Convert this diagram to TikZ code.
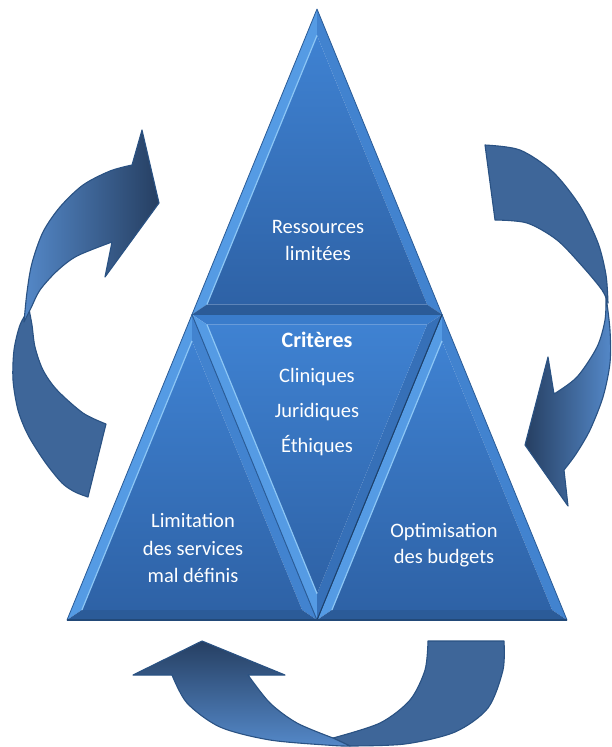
\documentclass[tikz,border=0pt]{standalone}
\usepackage{fontspec}
\setmainfont{Carlito}
\definecolor{triTop}{HTML}{3F82D2}
\definecolor{triBot}{HTML}{2E62A6}
\definecolor{bevL}{HTML}{559BE4}
\definecolor{bevR}{HTML}{4283CF}
\definecolor{bevB}{HTML}{2B5B98}
\definecolor{bevCT}{HTML}{3A7CCB}
\definecolor{bevCR}{HTML}{3670B8}
\definecolor{hilite}{HTML}{8CC6F5}
\definecolor{edgeC}{HTML}{2A5B96}
\definecolor{arrBack}{HTML}{3E6699}
\definecolor{arrDark}{HTML}{263F62}
\definecolor{arrLight}{HTML}{5488C8}
\definecolor{arrLine}{HTML}{2A5283}
\begin{document}
\begin{tikzpicture}[x=1pt,y=-1pt,
  back/.style={fill=arrBack,draw=arrLine,line width=1.1pt,line join=round},
  front/.style={draw=arrLine,line width=1.1pt,line join=round},
  outl/.style={draw=edgeC,line width=0.8pt,line join=round},
  lbl/.style={text=white,anchor=base,inner sep=0pt,font=\fontsize{20.5}{24}\selectfont},
  lblb/.style={lbl,font=\fontsize{22}{24}\selectfont\bfseries}]
\useasboundingbox (0,0) rectangle (611,747);
% --- outer vertices
\coordinate (A) at (317,9);
\coordinate (ML) at (192,314.5);
\coordinate (MR) at (442,314.5);
\coordinate (L) at (67,620);
\coordinate (MB) at (317,620);
\coordinate (R) at (567,620);
% --- inner (bevel) vertices
\coordinate (Ai) at (317,35.4);
\coordinate (MLt) at (206.9,304.5);
\coordinate (MRt) at (427.1,304.5);
\coordinate (MLl) at (192,340.9);
\coordinate (Ll) at (81.9,610);
\coordinate (MBl) at (302.1,610);
\coordinate (MRr) at (442,340.9);
\coordinate (MBr) at (331.9,610);
\coordinate (Rr) at (552.1,610);
\coordinate (MLc) at (206.9,324.5);
\coordinate (MRc) at (427.1,324.5);
\coordinate (MBc) at (317,593.6);
% --- top triangle
\fill[bevL] (A)--(ML)--(MLt)--(Ai)--cycle;
\fill[bevR] (A)--(MR)--(MRt)--(Ai)--cycle;
\fill[bevB] (ML)--(MR)--(MRt)--(MLt)--cycle;
\shade[top color=triTop,bottom color=triBot] (Ai)--(MLt)--(MRt)--cycle;
\draw[hilite,line width=1.2pt] (Ai)--(MLt);
\draw[outl] (A)--(ML)--(MR)--cycle;
% --- left triangle
\fill[bevL] (ML)--(L)--(Ll)--(MLl)--cycle;
\fill[bevR] (ML)--(MB)--(MBl)--(MLl)--cycle;
\fill[bevB] (L)--(MB)--(MBl)--(Ll)--cycle;
\shade[top color=triTop,bottom color=triBot] (MLl)--(Ll)--(MBl)--cycle;
\draw[hilite,line width=1.2pt] (MLl)--(Ll);
\draw[outl] (ML)--(L)--(MB)--cycle;
% --- right triangle
\fill[bevL] (MR)--(MB)--(MBr)--(MRr)--cycle;
\fill[bevR] (MR)--(R)--(Rr)--(MRr)--cycle;
\fill[bevB] (MB)--(R)--(Rr)--(MBr)--cycle;
\shade[top color=triTop,bottom color=triBot] (MRr)--(MBr)--(Rr)--cycle;
\draw[hilite,line width=1.2pt] (MRr)--(MBr);
\draw[outl] (MR)--(MB)--(R)--cycle;
% --- centre (inverted) triangle
\fill[bevCT] (ML)--(MR)--(MRc)--(MLc)--cycle;
\fill[bevL] (ML)--(MB)--(MBc)--(MLc)--cycle;
\fill[bevCR] (MR)--(MB)--(MBc)--(MRc)--cycle;
\shade[top color=triTop,bottom color=triBot] (MLc)--(MRc)--(MBc)--cycle;
\draw[hilite,line width=1.2pt] (MLc)--(MBc);
\draw[outl] (ML)--(MR)--(MB)--cycle;
\draw[edgeC!70!black,line width=0.9pt] (MR)--(MB);
\draw[edgeC!80!black,line width=1.2pt] (L)--(R);
% --- texts
\node[lbl] (t1) at (318,233) {Ressources};
\node[lbl] (t2) at (318,260) {limitées};
\node[lblb] (c0) at (317,347) {Critères};
\node[lbl] (c1) at (317,382.5) {Cliniques};
\node[lbl] (c2) at (317,417.5) {Juridiques};
\node[lbl] (c3) at (317,452.5) {Éthiques};
\node[lbl] (l1) at (193,527) {Limitation};
\node[lbl] (l2) at (193,555) {des services};
\node[lbl] (l3) at (193,582) {mal définis};
\node[lbl] (r1) at (444,537) {Optimisation};
\node[lbl] (r2) at (444,563) {des budgets};
% --- left arrow
\filldraw[back] plot[smooth] coordinates {(29,309) (20,325) (14,350) (13,380) (18,410) (28,435) (45,462) (62,483) (75,492) (88,497)} -- (106,424) -- plot[smooth] coordinates {(106,424) (83,413) (57,390) (43,370) (35,347) (32,325) (29,309)} -- cycle;
\shadedraw[front,left color=arrLight,right color=arrDark] plot[smooth] coordinates {(24,322) (27,292) (32,263) (43,232) (60,207) (83,185) (110,171) (132,165)} -- (142,130) -- (159,203) -- (105,277) -- (112,242) -- plot[smooth] coordinates {(112,242) (77,256) (57,271) (40,290) (31,308) (24,322)} -- cycle;
% --- right arrow
\filldraw[back] (485,145) -- plot[smooth] coordinates {(485,145) (520,150) (553,172) (580,206) (598,243) (606,275) (608,303)} -- plot[smooth] coordinates {(608,303) (602,290) (583,267) (557,240) (527,223) (495,220)} -- cycle;
\shadedraw[front,left color=arrDark,right color=arrLight] plot[smooth] coordinates {(606,296) (610,330) (610,363) (603,397) (590,430) (576,454) (564,470)} -- (568,506) -- (525,445) -- (548,357) -- (554,394) -- plot[smooth] coordinates {(554,394) (577,377) (597,347) (605,320) (606,296)} -- cycle;
% --- bottom arrow
\filldraw[back] (428,641) -- (504,641) -- plot[smooth] coordinates {(504,641) (503,670) (488,708) (455,732) (405,744) (350,746)} -- (333,738) -- plot[smooth] coordinates {(333,738) (380,723) (410,700) (425,670) (428,641)} -- cycle;
\shadedraw[front,top color=arrDark,bottom color=arrLight] (172,675) -- (133,675) -- (202,641) -- (285,675) -- (248,675) -- plot[smooth] coordinates {(248,675) (270,703) (297,723) (333,738)} -- (350,746) -- plot[smooth] coordinates {(350,746) (333,745.5) (270,740) (220,727) (187,703) (172,675)} -- cycle;
\end{tikzpicture}
\end{document}
